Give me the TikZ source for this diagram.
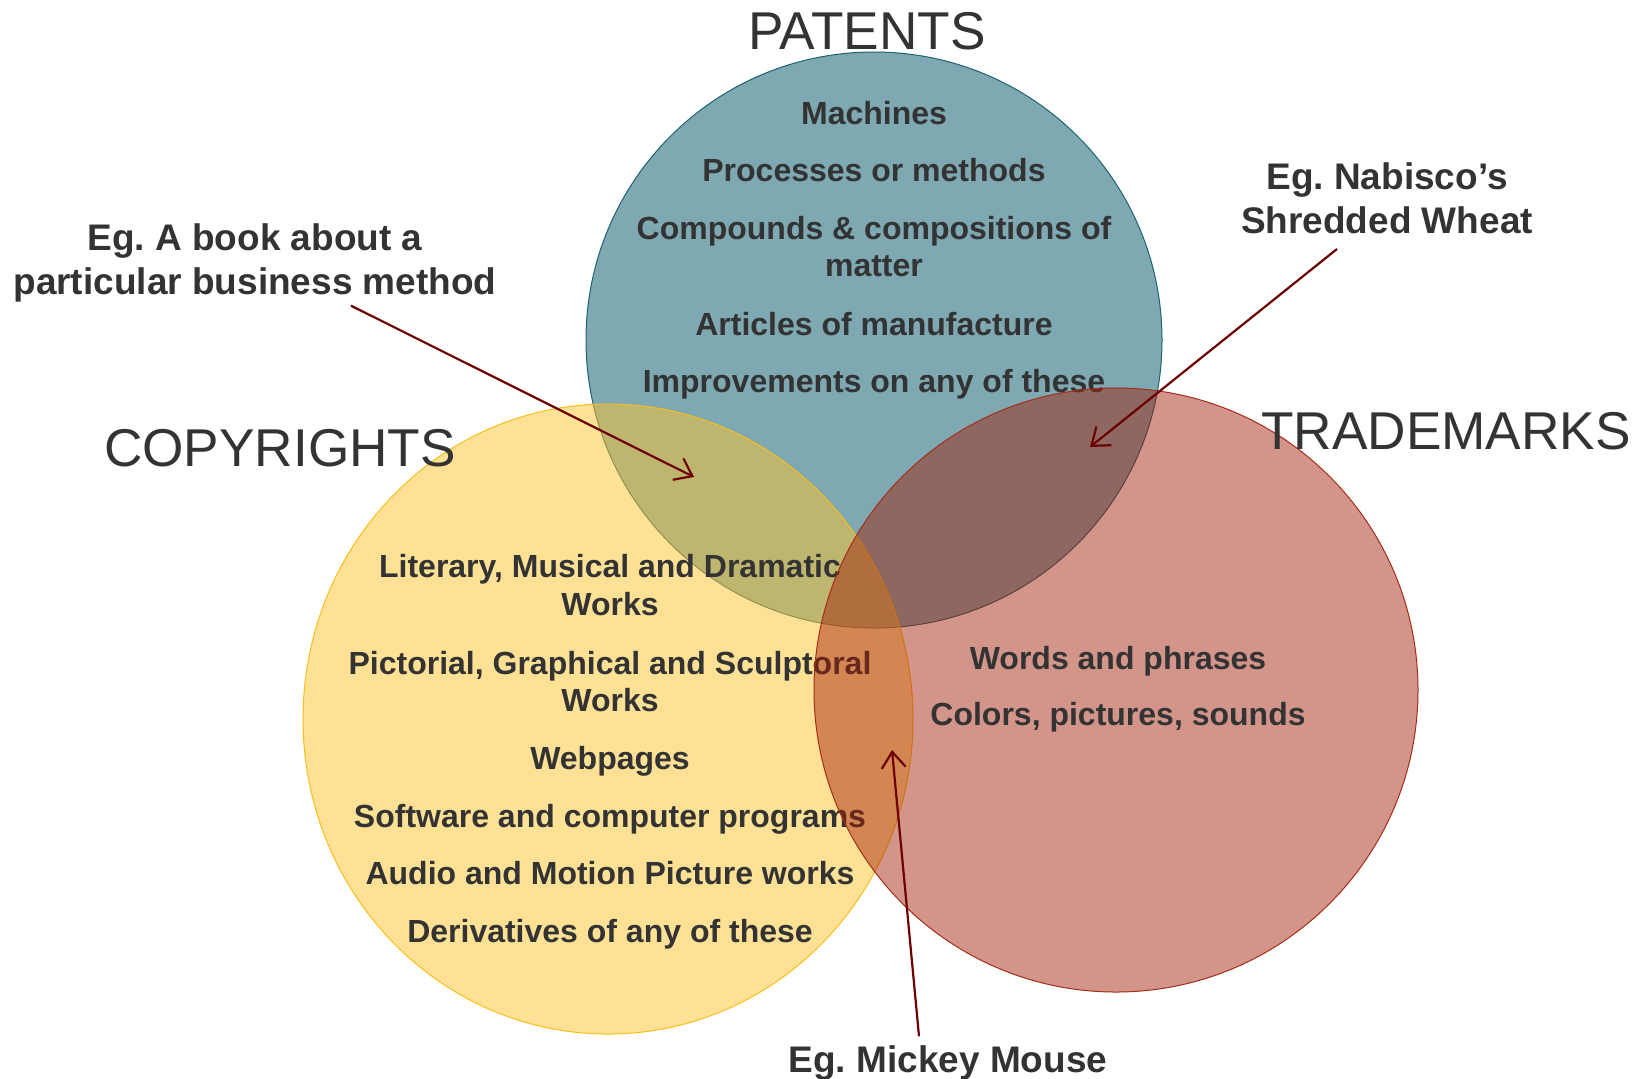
\documentclass[tikz,border=0pt]{standalone}
\usepackage{fontspec}
\setmainfont{Liberation Sans}
\usepackage{xcolor}
\usetikzlibrary{arrows.meta}
\frenchspacing

\definecolor{patentfill}{RGB}{126,168,178}
\definecolor{patentline}{RGB}{31,98,112}
\definecolor{copyfill}{RGB}{255,195,45}
\definecolor{copyline}{RGB}{246,190,30}
\definecolor{tradefill}{RGB}{162,30,6}
\definecolor{tradeline}{RGB}{165,45,25}
\definecolor{inktext}{RGB}{51,51,51}
\definecolor{notearrow}{RGB}{110,0,0}

\tikzset{
    areatitle/.style={
        font=\fontsize{26.6}{30}\selectfont,
        text=inktext,
        inner sep=0pt
    },
    listitem/.style={
        font=\bfseries\fontsize{16}{18.9}\selectfont,
        text=inktext,
        align=center,
        text depth=0.21em,
        inner sep=0pt
    },
    egnote/.style={
        font=\bfseries\fontsize{18.5}{22}\selectfont,
        text=inktext,
        align=center,
        inner sep=0pt
    },
    pointer/.style={
        draw=notearrow,
        line width=1.1pt,
        -{Straight Barb[length=8pt,width=12pt]}
    },
    patentset/.style={fill=patentfill, draw=patentline, line width=0.5pt},
    copyset/.style={fill=copyfill, fill opacity=0.5, draw=copyline, line width=0.5pt},
    tradeset/.style={fill=tradefill, fill opacity=0.47, draw=tradeline, line width=0.5pt}
}

\begin{document}
\begin{tikzpicture}[x=0.5pt, y=-0.5pt]

\useasboundingbox (0,0) rectangle (1643,1078);

% Patents
\draw[patentset] (874,340) circle (288);
\node[listitem] (pat1) at (874,114.5) {Machines};
\node[listitem] (pat2) at (874,172) {Processes or methods};
\node[listitem] (pat3) at (874,248.5) {Compounds \& compositions of\\matter};
\node[listitem] (pat4) at (874,326) {Articles of manufacture};
\node[listitem] (pat5) at (874,383) {Improvements on any of these};

% Copyrights
\draw[copyset] (608,719) ellipse (305 and 315);
\node[listitem] (copy1) at (610,587) {Literary, Musical and Dramatic\\Works};
\node[listitem] (copy2) at (610,683.5) {Pictorial, Graphical and Sculptoral\\Works};
\node[listitem] (copy3) at (610,760) {Webpages};
\node[listitem] (copy4) at (610,817.5) {Software and computer programs};
\node[listitem] (copy5) at (610,875) {Audio and Motion Picture works};
\node[listitem] (copy6) at (610,933) {Derivatives of any of these};

% Trademarks
\draw[tradeset] (1116,690) circle (302);
\node[listitem] (trade1) at (1118,659.5) {Words and phrases};
\node[listitem] (trade2) at (1118,716) {Colors, pictures, sounds};

% Titles
\node[areatitle] (patents) at (867,31) {PATENTS};
\node[areatitle] (copyrights) at (280,448) {COPYRIGHTS};
\node[areatitle] (trademarks) at (1446,431) {TRADEMARKS};

% Examples with pointers into the overlaps
\node[egnote] (bookNote) at (255,263) {Eg. A book about a\\particular business method};
\node[egnote] (nabiscoNote) at (1387,198) {Eg. Nabisco’s\\Shredded Wheat};
\node[egnote] (mickeyNote) at (948,1063) {Eg. Mickey Mouse};

\coordinate (bookTip) at (694,477);
\coordinate (nabiscoTip) at (1090,447);
\coordinate (mickeyTip) at (892,750);

\draw[pointer] ([xshift=48pt,yshift=-1.5pt]bookNote.south) -- (bookTip);
\draw[pointer] ([xshift=-25pt,yshift=-7.5pt]nabiscoNote.south) -- (nabiscoTip);
\draw[pointer] ([xshift=-14.5pt,yshift=4.5pt]mickeyNote.north) -- (mickeyTip);

\end{tikzpicture}
\end{document}
